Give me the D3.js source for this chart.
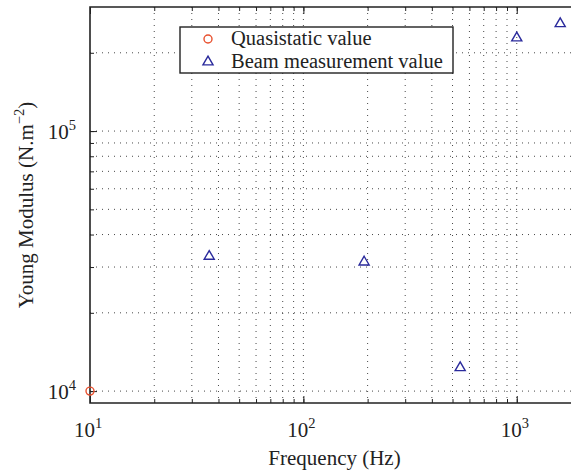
<!DOCTYPE html>
<html>
<head>
<meta charset="utf-8">
<script src="https://cdn.jsdelivr.net/npm/d3@7"></script>
<style>
  body { margin: 0; background: #fff; }
  text { font-family: "Liberation Serif", "Times New Roman", serif; fill: #222; }
</style>
</head>
<body>
<div class="chart"></div>
<script>
// data
const quasiFreq = [10];
const quasiModulus = [10000];
const beamFreq = [36.2, 192.6, 543, 1000, 1598];
const beamModulus = [33270, 31620, 12410, 230000, 261000];

const xMajor = [10, 100, 1000];
const yMajor = [10000, 100000];
const xLabels = ["1", "2", "3"];
const yLabels = ["4", "5"];
const legendNames = ["Quasistatic value", "Beam measurement value"];

const W = 571, H = 474;
const margin = {top: 7, right: -10, bottom: 71, left: 90};
const width = W - margin.left - margin.right,
      height = H - margin.top - margin.bottom;

const svg = d3.select(".chart")
  .append("svg")
  .attr("width", W)
  .attr("height", H);

const g = svg.append("g")
  .attr("transform", `translate(${margin.left}, ${margin.top})`);

const x = d3.scaleLog().domain([10, 2000]).range([0, width]);
const y = d3.scaleLog().domain([9000, 300000]).range([height, 0]);

// minor positions for grid and ticks
function logSteps(lo, hi) {
  let out = [];
  for (let p = Math.floor(Math.log10(lo)); p <= Math.ceil(Math.log10(hi)); p++) {
    for (let k = 1; k < 10; k++) {
      let v = k * Math.pow(10, p);
      if (v > lo * 1.0001 && v < hi * 0.9999) out.push(v);
    }
  }
  return out;
}
const xGrid = logSteps(10, 2000);
const yGrid = logSteps(9000, 300000);

// grid
const grid = g.append("g")
  .attr("stroke", "#333")
  .attr("stroke-width", 0.9)
  .attr("stroke-dasharray", "1,5");
grid.selectAll(".vg").data(xGrid).join("line")
  .attr("x1", d => x(d)).attr("x2", d => x(d))
  .attr("y1", 0).attr("y2", height);
grid.selectAll(".hg").data(yGrid).join("line")
  .attr("y1", d => y(d)).attr("y2", d => y(d))
  .attr("x1", 0).attr("x2", width);

// axes with inward ticks
function styleAxis(sel) {
  sel.select(".domain").remove();
  sel.selectAll("line").attr("stroke", "#222").attr("stroke-width", 1);
  sel.selectAll("text").remove();
}
g.append("g").attr("transform", `translate(0, ${height})`)
  .call(d3.axisBottom(x).tickValues(xMajor).tickSize(-7).tickFormat(""))
  .call(styleAxis);
g.append("g").attr("transform", `translate(0, ${height})`)
  .call(d3.axisBottom(x).tickValues(xGrid).tickSize(-4).tickFormat(""))
  .call(styleAxis);
g.append("g")
  .call(d3.axisTop(x).tickValues(xMajor).tickSize(-7).tickFormat(""))
  .call(styleAxis);
g.append("g")
  .call(d3.axisTop(x).tickValues(xGrid).tickSize(-4).tickFormat(""))
  .call(styleAxis);
g.append("g")
  .call(d3.axisLeft(y).tickValues(yMajor).tickSize(-7).tickFormat(""))
  .call(styleAxis);
g.append("g")
  .call(d3.axisLeft(y).tickValues(yGrid).tickSize(-4).tickFormat(""))
  .call(styleAxis);

// frame
g.append("path")
  .attr("d", `M${width},0H0V${height}H${width}`)
  .attr("fill", "none")
  .attr("stroke", "#222")
  .attr("stroke-width", 1.6);

// tick labels
xMajor.forEach((v, i) => {
  let t = g.append("text")
    .attr("x", x(v) - 2).attr("y", height + 34)
    .attr("text-anchor", "middle")
    .style("font-size", "21px");
  t.append("tspan").text("10");
  t.append("tspan").attr("dy", -9).style("font-size", "14.5px").text(xLabels[i]);
});
yMajor.forEach((v, i) => {
  let t = g.append("text")
    .attr("x", -14).attr("y", y(v) + 8)
    .attr("text-anchor", "end")
    .style("font-size", "21px");
  t.append("tspan").text("10");
  t.append("tspan").attr("dy", -9).style("font-size", "14.5px").text(yLabels[i]);
});

// axis titles
g.append("text")
  .attr("x", x(10) + (581 - 90) / 2 - 1).attr("y", height + 62)
  .attr("text-anchor", "middle")
  .style("font-size", "21px")
  .text("Frequency (Hz)");

const yt = svg.append("text")
  .attr("transform", `translate(33, ${margin.top + height / 2}) rotate(-90)`)
  .attr("text-anchor", "middle")
  .style("font-size", "21px");
yt.append("tspan").text("Young Modulus (N.m");
yt.append("tspan").attr("dy", -9).style("font-size", "14.5px").text("\u22122");
yt.append("tspan").attr("dy", 9).text(")");

// markers
const red = "#e8502e", blue = "#2a2a9c";
const tri = d3.symbol().type(d3.symbolTriangle).size(44);

g.selectAll(".quasi").data(quasiFreq).join("circle")
  .attr("cx", d => x(d))
  .attr("cy", (d, i) => y(quasiModulus[i]))
  .attr("r", 4)
  .attr("fill", "none")
  .attr("stroke", red)
  .attr("stroke-width", 1.4);

g.selectAll(".beam").data(beamFreq).join("path")
  .attr("d", tri)
  .attr("transform", (d, i) => `translate(${x(d)}, ${y(beamModulus[i]) + 1})`)
  .attr("fill", "none")
  .attr("stroke", blue)
  .attr("stroke-width", 1.4);

// legend
const lg = svg.append("g").attr("transform", "translate(180, 27)");
lg.append("rect")
  .attr("width", 273).attr("height", 46)
  .attr("fill", "#fff")
  .attr("stroke", "#222")
  .attr("stroke-width", 1.4);
lg.append("circle")
  .attr("cx", 28).attr("cy", 12).attr("r", 4)
  .attr("fill", "none").attr("stroke", red).attr("stroke-width", 1.4);
lg.append("path")
  .attr("d", tri)
  .attr("transform", "translate(28, 35)")
  .attr("fill", "none").attr("stroke", blue).attr("stroke-width", 1.4);
legendNames.forEach((n, i) => {
  lg.append("text")
    .attr("x", 51).attr("y", 18 + i * 23)
    .style("font-size", "20.5px")
    .text(n);
});
</script>
</body>
</html>
